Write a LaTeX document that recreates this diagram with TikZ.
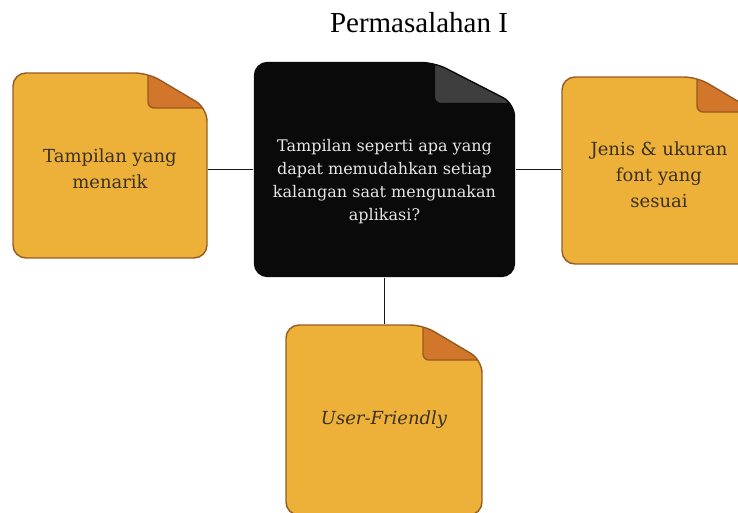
\documentclass[tikz,border=0pt]{standalone}
\usepackage{fontspec}
\setmainfont{Liberation Serif}
\newfontfamily\notefont{DejaVu Serif}
\usetikzlibrary{calc}

\begin{document}
\begin{tikzpicture}[x=1pt,y=-1pt,thick,
	fold w/.store in=\foldw, fold h/.store in=\foldh,
	paper/.store in=\paper, corner/.store in=\corner, rim/.store in=\rim,
	note/.style={inner sep=0pt, fold w=59pt, fold h=35pt,
		paper=notey, corner=noteo, rim=noteb,
		path picture={
			\coordinate (nw) at ([shift={(.7pt,-.7pt)}]path picture bounding box.north west);
			\coordinate (ne) at ([shift={(-.7pt,-.7pt)}]path picture bounding box.north east);
			\coordinate (se) at ([shift={(-.7pt,.7pt)}]path picture bounding box.south east);
			\coordinate (sw) at ([shift={(.7pt,.7pt)}]path picture bounding box.south west);
			\coordinate (fa) at ([xshift=-\foldw]ne);
			\coordinate (fb) at ([xshift=-\foldw,yshift=-\foldh]ne);
			\coordinate (fc) at ([yshift=-\foldh]ne);
			\begin{scope}
				\clip[rounded corners=13pt] (nw) -- (fa) -- (fc) -- (se) -- (sw) -- cycle;
				\fill[\paper] (nw) rectangle (se);
				\fill[\corner] (fa) [rounded corners=6pt]-- (fb) [sharp corners]-- (fc) -- cycle;
				\draw[\rim,line width=1.4pt,rounded corners=6pt] (fa) -- (fb) -- (fc);
			\end{scope}
			\draw[\rim,line width=1.4pt,rounded corners=13pt] (nw) -- (fa) -- (fc) -- (se) -- (sw) -- cycle;
		}},
	side text/.style={font=\notefont\fontsize{18}{26}\selectfont, text=notet, align=center},
	q text/.style={font=\notefont\fontsize{16}{23}\selectfont, text=noteg, align=center},
	link/.style={draw=linkc, line width=1.6pt}]

	\definecolor{notey}{RGB}{237,177,58}
	\definecolor{noteo}{RGB}{209,118,42}
	\definecolor{noteb}{RGB}{152,90,34}
	\definecolor{notet}{RGB}{58,48,36}
	\definecolor{noteblack}{RGB}{10,10,10}
	\definecolor{notegray}{RGB}{62,62,62}
	\definecolor{noteg}{RGB}{230,230,230}
	\definecolor{linkc}{RGB}{25,25,25}

	\useasboundingbox (0,0) rectangle (738,512);

	\node[font=\fontsize{29}{34}\selectfont, anchor=base] (title) at (419,32) {Permasalahan I};

	\node[note, minimum width=261.4pt, minimum height=215.4pt, fold w=80pt, fold h=41pt,
		paper=noteblack, corner=notegray, rim=noteblack,
		label={[name=q-text, q text, yshift=-12pt]center:Tampilan seperti apa yang\\dapat memudahkan setiap\\kalangan saat mengunakan\\aplikasi?}]
		(q) at (384.5,169.5) {};
	\node[note, minimum width=195.4pt, minimum height=186.4pt,
		label={[name=l-text, side text, yshift=-3pt]center:Tampilan yang\\menarik}]
		(l) at (110,165.5) {};
	\node[note, minimum width=195.4pt, minimum height=188.4pt,
		label={[name=r-text, side text, yshift=-4pt]center:Jenis \& ukuran\\font yang\\sesuai}]
		(r) at (659,170.5) {};
	\node[note, minimum width=197.4pt, minimum height=191.4pt,
		label={[name=u-text, side text]center:\itshape User-Friendly}]
		(u) at (384,420) {};

	\draw[link] (q.west) -- (q.west -| l.east);
	\draw[link] (q.east) -- (q.east -| r.west);
	\draw[link] (q.south) -- (q.south |- u.north);
\end{tikzpicture}
\end{document}
